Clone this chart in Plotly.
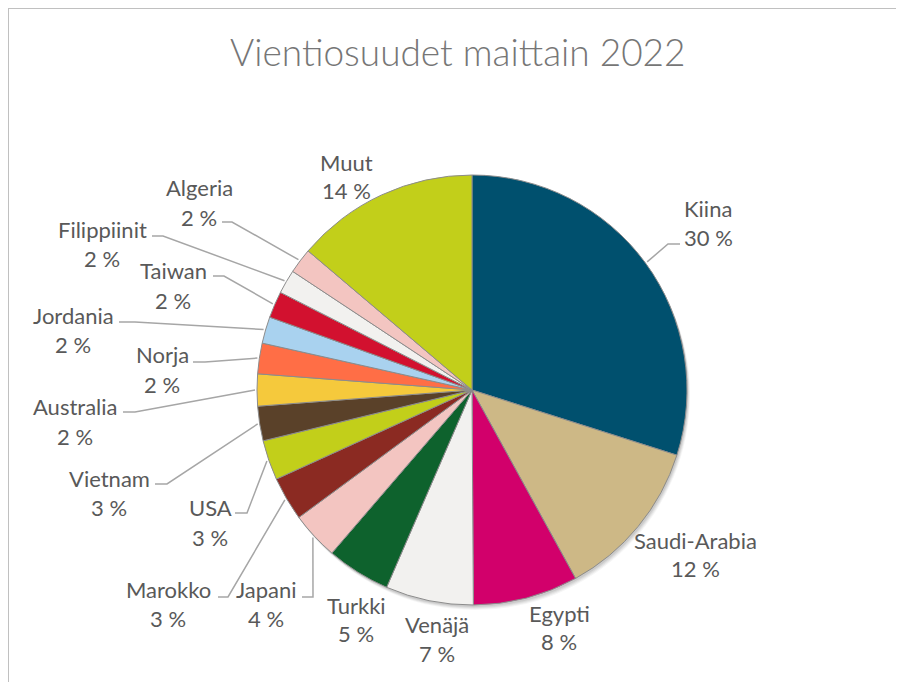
import math
import plotly.graph_objects as go

# ---- data ----
countries = ["Kiina", "Saudi-Arabia", "Egypti", "Venäjä", "Turkki", "Japani", "Marokko",
             "USA", "Vietnam", "Australia", "Norja", "Jordania", "Taiwan", "Filippiinit",
             "Algeria", "Muut"]
shares = [29.9, 12.1, 7.9, 6.6, 4.8, 3.6, 3.3, 3.0, 2.6, 2.4, 2.3, 2.0, 2.0, 1.8, 1.9, 13.8]
colors = ["#00506E", "#CDB886", "#D2006B", "#F2F1EF", "#0E622D", "#F3C5C1", "#8B2A22",
          "#C2CF1A", "#5A4129", "#F5C93C", "#FF6E46", "#A9D2EF", "#D2112F", "#F2F1EF",
          "#F3C5C1", "#C2CF1A"]
title_text = "Vientiosuudet maittain 2022"

# ---- layout helpers (pixel geometry of the 904x682 window) ----
W, H = 904, 682
OFF = 8                      # page body margin
FW, FH = W - OFF, H - OFF    # figure size
CX, CY, R = 472, 390, 215

def px(x):
    return (x - OFF) / FW

def py(y):
    return 1 - (y - OFF) / FH

# label placement: name centre x, name y, pct y (pixels)
label_pos = {
    "Kiina": (708, 208, 237),
    "Saudi-Arabia": (695, 540, 568),
    "Egypti": (559, 613, 641),
    "Venäjä": (437, 624, 653),
    "Turkki": (356, 605, 633),
    "Japani": (266, 589, 618),
    "Marokko": (168, 589, 618),
    "USA": (210, 507, 537),
    "Vietnam": (109, 478, 507),
    "Australia": (75, 406, 436),
    "Norja": (162, 355, 384),
    "Jordania": (73, 315, 344),
    "Taiwan": (173, 270, 300),
    "Filippiinit": (102, 229, 258),
    "Algeria": (199, 187, 217),
    "Muut": (346, 162, 190),
}
# leader line start segment near the label (pixels): (x_start, x_elbow, y)
leader_pos = {
    "Kiina": (680, 668, 244),
    "Japani": (302, 313, 597),
    "Marokko": (218, 228, 597),
    "USA": (235, 247, 513),
    "Vietnam": (155, 167, 484),
    "Australia": (123, 135, 412),
    "Norja": (193, 205, 362),
    "Jordania": (119, 135, 322),
    "Taiwan": (213, 224, 276),
    "Filippiinit": (152, 163, 236),
    "Algeria": (222, 232, 222),
}

fig = go.Figure()

# soft shadow circles under the pie
shapes = []
for off, op in [(5, 0.04), (4, 0.05), (3, 0.06), (2, 0.07)]:
    shapes.append(dict(type="circle", xref="paper", yref="paper", layer="below",
                       x0=px(CX - R + off * 0.6), x1=px(CX + R + off * 0.6),
                       y0=py(CY + R + off), y1=py(CY - R + off),
                       fillcolor=f"rgba(0,0,0,{op})", line=dict(width=0)))

fig.add_trace(go.Pie(
    labels=countries, values=shares, sort=False, direction="clockwise", rotation=0,
    marker=dict(colors=colors, line=dict(color="#8C8C8C", width=1)),
    textinfo="none", hoverinfo="label+percent", showlegend=False,
    domain=dict(x=[px(CX - R), px(CX + R)], y=[py(CY + R), py(CY - R)]),
))

total = sum(shares)
annotations = []
cum = 0.0
font_lbl = dict(family="Lato, 'Open Sans', sans-serif", size=22, color="#595959")
for name, v in zip(countries, shares):
    mid = (cum + v / 2) / total * 2 * math.pi
    cum += v
    pct = int(v / total * 100 + 0.5)
    nx, ny, pyy = label_pos[name]
    annotations.append(dict(x=px(nx), y=py(ny), xref="paper", yref="paper", text=name,
                            showarrow=False, xanchor="center", yanchor="middle", font=font_lbl))
    annotations.append(dict(x=px(nx), y=py(pyy), xref="paper", yref="paper", text=f"{pct} %",
                            showarrow=False, xanchor="center", yanchor="middle", font=font_lbl))
    if name in leader_pos:
        xs, xe, yl = leader_pos[name]
        ex = CX + (R + 2) * math.sin(mid)
        ey = CY - (R + 2) * math.cos(mid)
        path = f"M {px(xs)} {py(yl)} L {px(xe)} {py(yl)} L {px(ex)} {py(ey)}"
        shapes.append(dict(type="path", xref="paper", yref="paper", path=path,
                           line=dict(color="#A6A6A6", width=1.5)))

# chart border (top and left edges visible)
shapes.append(dict(type="line", xref="paper", yref="paper", x0=px(8), x1=px(W + 5),
                   y0=py(8), y1=py(8), line=dict(color="#C0C0C0", width=2)))
shapes.append(dict(type="line", xref="paper", yref="paper", x0=px(8), x1=px(8),
                   y0=py(8), y1=py(H + 5), line=dict(color="#C0C0C0", width=2)))

annotations.append(dict(x=px(458), y=py(51), xref="paper", yref="paper", text=title_text,
                        showarrow=False, xanchor="center", yanchor="middle",
                        font=dict(family="Lato, 'Open Sans', sans-serif", size=37,
                                  color="#767676", weight=300)))

fig.update_layout(
    width=FW, height=FH, margin=dict(l=0, r=0, t=0, b=0),
    paper_bgcolor="white", plot_bgcolor="white",
    shapes=shapes, annotations=annotations,
)

fig.write_html("out.html")
